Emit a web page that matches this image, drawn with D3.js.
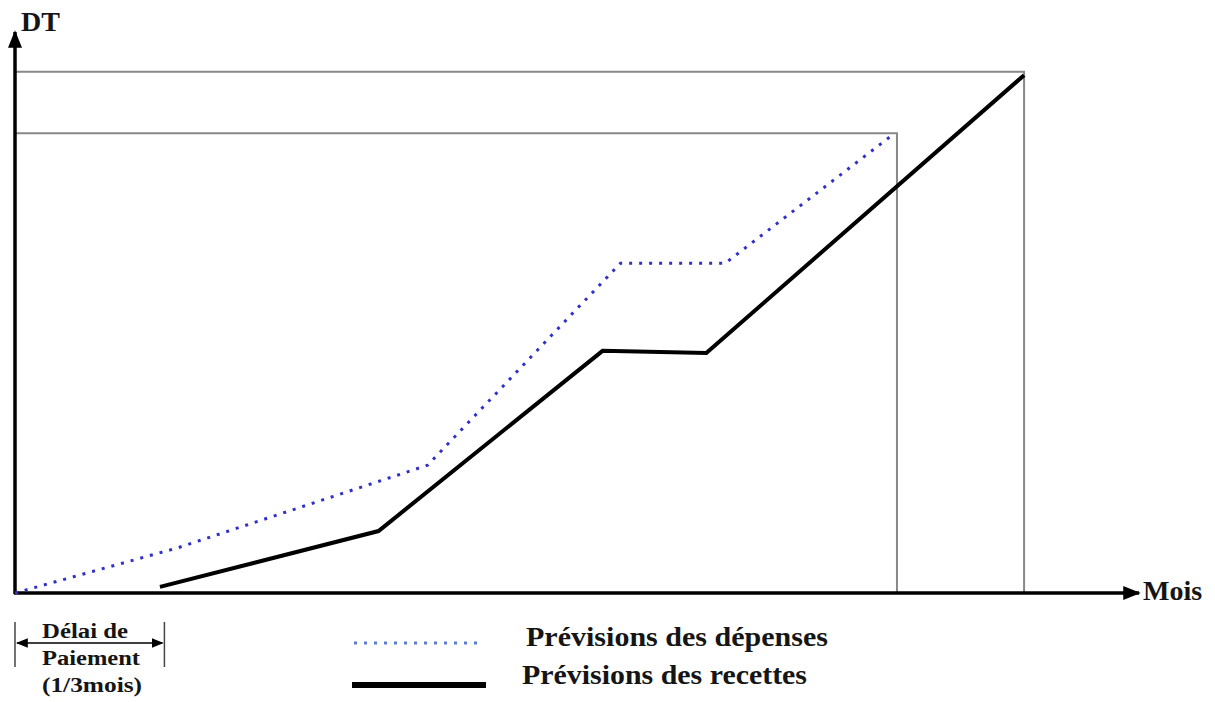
<!DOCTYPE html>
<html><head><meta charset="utf-8">
<script src="https://cdn.jsdelivr.net/npm/d3@7"></script>
<style>body{margin:0;background:#fff}svg{display:block}</style>
</head><body>
<script>
// Data (abstract units: x = mois, y = DT, domain 0..100)
const depensesX = [0, 14.6, 37.0, 54.3, 63.7, 78.9];
const depensesY = [0, 8.1, 22.9, 59.1, 59.1, 82.4];
const recettesX = [13.0, 32.6, 52.7, 62.0, 90.5];
const recettesY = [1.1, 11.1, 43.4, 43.0, 92.8];
// Reference gray guide lines: [xEnd, yLevel]
const guideX = [79.1, 90.5];
const guideY = [82.4, 93.4];
const delaiEnd = 13.4;
const legendLabels = ["Prévisions des dépenses", "Prévisions des recettes"];
const axisLabels = ["DT", "Mois"];
const delaiLabels = ["Délai de", "Paiement", "(1/3mois)"];

const FONT = "Liberation Serif";
const W = 1215, H = 702;
const svg = d3.select("body").append("svg").attr("width", W).attr("height", H);
const x = d3.scaleLinear().domain([0, 100]).range([15, 1130]);
const y = d3.scaleLinear().domain([0, 100]).range([593, 35]);

const defs = svg.append("defs");
defs.append("marker").attr("id", "arr").attr("viewBox", "0 0 10 10").attr("refX", 9).attr("refY", 5)
  .attr("markerWidth", 5).attr("markerHeight", 5).attr("markerUnits", "strokeWidth").attr("orient", "auto-start-reverse")
  .append("path").attr("d", "M0,1 L10,5 L0,9 Z").attr("fill", "#000");
defs.append("marker").attr("id", "arrS").attr("viewBox", "0 0 10 10").attr("refX", 9).attr("refY", 5)
  .attr("markerWidth", 8).attr("markerHeight", 8).attr("markerUnits", "strokeWidth").attr("orient", "auto-start-reverse")
  .append("path").attr("d", "M0,1 L10,5 L0,9 Z").attr("fill", "#000");

function txt(px, py, s, size, len) {
  const t = svg.append("text").attr("x", px).attr("y", py).attr("font-family", FONT)
    .attr("font-weight", "bold").attr("font-size", size).attr("fill", "#151515").text(s);
  if (len) t.attr("textLength", len).attr("lengthAdjust", "spacingAndGlyphs");
  return t;
}

// Guide lines (gray)
guideX.forEach((gx, i) => {
  const gy = guideY[i];
  svg.append("path").attr("d", `M${x(0)},${y(gy)} H${x(gx)} V${y(0)}`)
    .attr("fill", "none").attr("stroke", "#888").attr("stroke-width", 2);
});

// Axes
svg.append("line").attr("x1", x(0)).attr("y1", y(0) + 1).attr("x2", x(0)).attr("y2", 32)
  .attr("stroke", "#000").attr("stroke-width", 3.5).attr("marker-end", "url(#arr)");
svg.append("line").attr("x1", x(0) - 1).attr("y1", y(0)).attr("x2", 1139).attr("y2", y(0))
  .attr("stroke", "#000").attr("stroke-width", 3.5).attr("marker-end", "url(#arr)");

txt(21, 31, axisLabels[0], 28);
txt(1143, 600, axisLabels[1], 28);

const line = d3.line().x(d => x(d[0])).y(d => y(d[1]));
const dep = depensesX.map((v, i) => [v, depensesY[i]]);
const rec = recettesX.map((v, i) => [v, recettesY[i]]);

svg.append("path").attr("d", line(dep)).attr("fill", "none").attr("stroke", "#3030c8")
  .attr("stroke-width", 3).attr("stroke-dasharray", "3,7");
svg.append("path").attr("d", line(rec)).attr("fill", "none").attr("stroke", "#000")
  .attr("stroke-width", 4).attr("stroke-linejoin", "miter");

// Délai de paiement annotation
const dx1 = x(0), dx2 = x(delaiEnd);
[dx1, dx2].forEach(px => svg.append("line").attr("x1", px).attr("x2", px).attr("y1", 622).attr("y2", 667)
  .attr("stroke", "#444").attr("stroke-width", 1.5));
svg.append("line").attr("x1", dx1 + 2).attr("x2", dx2 - 2).attr("y1", 643).attr("y2", 643)
  .attr("stroke", "#000").attr("stroke-width", 1.5)
  .attr("marker-start", "url(#arrS)").attr("marker-end", "url(#arrS)");
txt(42, 638, delaiLabels[0], 20, 86);
txt(42, 665, delaiLabels[1], 20, 98);
txt(42, 692, delaiLabels[2], 20, 100);

// Legend
svg.append("line").attr("x1", 354).attr("x2", 484).attr("y1", 643).attr("y2", 643)
  .attr("stroke", "#5b7fd0").attr("stroke-width", 3).attr("stroke-dasharray", "3,7");
svg.append("line").attr("x1", 352).attr("x2", 486).attr("y1", 685).attr("y2", 685)
  .attr("stroke", "#000").attr("stroke-width", 6);
txt(526, 646, legendLabels[0], 27, 302);
txt(522, 684, legendLabels[1], 27, 285);
</script>
</body></html>
